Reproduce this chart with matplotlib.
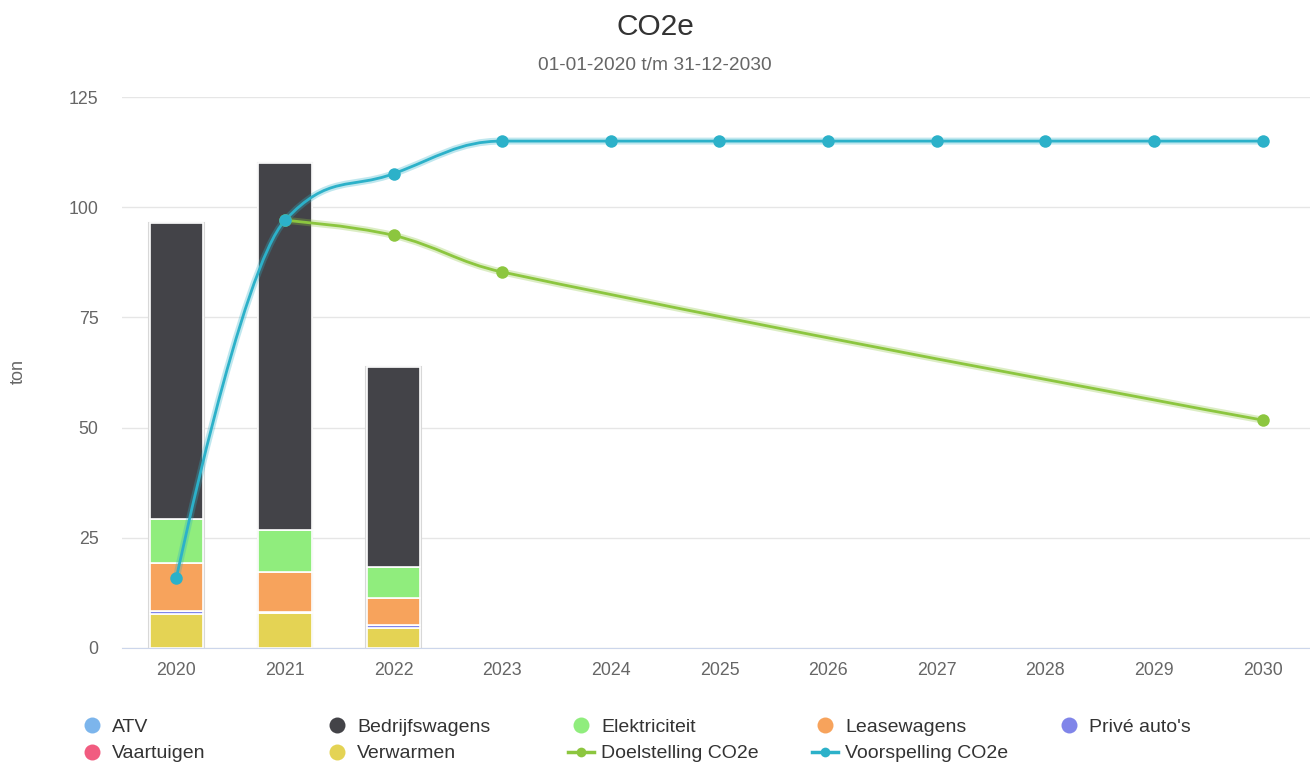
import numpy as np
import matplotlib
matplotlib.use("Agg")
from matplotlib import pyplot as plt
from matplotlib.path import Path
from matplotlib.patches import PathPatch
from matplotlib.lines import Line2D

plt.rcParams['font.family'] = ['Liberation Sans', 'DejaVu Sans']

# data
years = ['2020', '2021', '2022', '2023', '2024', '2025', '2026', '2027', '2028', '2029', '2030']
bar_years = [0, 1, 2]
atv = [0.0, 0.0, 0.0]
verwarmen = [7.6, 8.0, 4.6]
prive = [0.9, 0.2, 0.6]
vaartuigen = [0.0, 0.0, 0.0]
leasewagens = [10.7, 9.1, 6.1]
elektriciteit = [10.0, 9.4, 7.1]
bedrijfswagens = [67.2, 83.3, 45.3]

voorspelling_x = [0, 1, 2, 3, 4, 5, 6, 7, 8, 9, 10]
voorspelling = [15.8, 97.0, 107.6, 115.0, 115.0, 115.0, 115.0, 115.0, 115.0, 115.0, 115.0]
doel_x = [1, 2, 3, 10]
doelstelling = [97.0, 93.6, 85.3, 51.7]

yticks = [0, 25, 50, 75, 100, 125]

c_atv = '#7cb5ec'
c_bedrijf = '#434348'
c_elek = '#90ed7d'
c_lease = '#f7a35c'
c_prive = '#8085e9'
c_vaar = '#f15c80'
c_verw = '#e4d354'
c_doel = '#8cc63f'
c_voor = '#2cb1c9'

W, H = 1310, 763


def spline_path(xs, ys, smoothing=1.5):
    # highcharts-style spline: cubic bezier segments between points
    xs = list(map(float, xs)); ys = list(map(float, ys))
    n = len(xs)
    lc = [(xs[i], ys[i]) for i in range(n)]
    rc = [(xs[i], ys[i]) for i in range(n)]
    denom = smoothing + 1
    for i in range(1, n - 1):
        px, py = xs[i], ys[i]
        lx, ly = xs[i - 1], ys[i - 1]
        nx, ny = xs[i + 1], ys[i + 1]
        lcx = (smoothing * px + lx) / denom
        lcy = (smoothing * py + ly) / denom
        rcx = (smoothing * px + nx) / denom
        rcy = (smoothing * py + ny) / denom
        if rcx != lcx:
            corr = (rcy - lcy) * (rcx - px) / (rcx - lcx) + py - rcy
            lcy += corr
            rcy += corr
        if lcy > ly and lcy > py:
            lcy = max(ly, py); rcy = 2 * py - lcy
        elif lcy < ly and lcy < py:
            lcy = min(ly, py); rcy = 2 * py - lcy
        if rcy > ny and rcy > py:
            rcy = max(ny, py); lcy = 2 * py - rcy
        elif rcy < ny and rcy < py:
            rcy = min(ny, py); lcy = 2 * py - rcy
        lc[i] = (lcx, lcy)
        rc[i] = (rcx, rcy)
    verts = [(xs[0], ys[0])]
    codes = [Path.MOVETO]
    for i in range(1, n):
        verts += [rc[i - 1], lc[i], (xs[i], ys[i])]
        codes += [Path.CURVE4] * 3
    return Path(verts, codes)


fig = plt.figure(figsize=(W / 100, H / 100), dpi=100)
ax = fig.add_axes([122 / W, 1 - 648 / H, (W - 122) / W, (648 - 97) / H])

x = np.array(bar_years)
w = 0.49
bottom = np.zeros(3)
stack = [(atv, c_atv), (verwarmen, c_verw), (prive, c_prive), (vaartuigen, c_vaar),
         (leasewagens, c_lease), (elektriciteit, c_elek), (bedrijfswagens, c_bedrijf)]
for vals, col in stack:
    v = np.array(vals)
    ax.bar(x, v, w, bottom=bottom, color=col, edgecolor='white', linewidth=1.2, zorder=2)
    bottom += v
# light outline around full stack
ax.bar(x, bottom, w + 0.015, color='none', edgecolor='#d8d8d8', linewidth=1.5, zorder=1.9)

for xs, ys, col in [(doel_x, doelstelling, c_doel), (voorspelling_x, voorspelling, c_voor)]:
    p = spline_path(xs, ys)
    ax.add_patch(PathPatch(p, facecolor='none', edgecolor=col, lw=5, alpha=0.3, zorder=3, capstyle='round'))
    ax.add_patch(PathPatch(p, facecolor='none', edgecolor=col, lw=2, zorder=3.1, capstyle='round'))
    ax.plot(xs, ys, 'o', color=col, ms=9, mew=0, zorder=4)

ax.set_xlim(-0.5, 10.5 - 7 / 108.7)
ax.set_ylim(0, 125)
ax.set_yticks(yticks)
ax.set_xticks(range(len(years)))
ax.set_xticklabels(years)
ax.grid(axis='y', color='#e6e6e6', lw=1, zorder=0)
ax.tick_params(axis='both', length=0, labelsize=12.8, colors='#666666')
ax.tick_params(axis='x', pad=10)
ax.tick_params(axis='y', pad=17)
for s in ['top', 'right', 'left']:
    ax.spines[s].set_visible(False)
ax.spines['bottom'].set_color('#ccd6eb')

fig.text(18 / W, 1 - 372 / H, 'ton', rotation=90, ha='center', va='center', fontsize=13, color='#666666')
fig.text(0.5, 1 - 27 / H, 'CO2e', ha='center', va='center', fontsize=21.5, color='#333333')
fig.text(0.5, 1 - 66 / H, '01-01-2020 t/m 31-12-2030', ha='center', va='center', fontsize=13.8, color='#666666')

# legend, laid out like the reference (5 columns, 2 rows)
labels = ['ATV', 'Bedrijfswagens', 'Elektriciteit', 'Leasewagens', "Privé auto's",
          'Vaartuigen', 'Verwarmen', 'Doelstelling CO2e', 'Voorspelling CO2e']
colors = [c_atv, c_bedrijf, c_elek, c_lease, c_prive, c_vaar, c_verw, c_doel, c_voor]
kinds = ['bar'] * 7 + ['line'] * 2
colx = [92, 337, 581, 825, 1069]
rowy = [725, 752]
for k, (lab, col, kind) in enumerate(zip(labels, colors, kinds)):
    cx = colx[k % 5]
    cy = 1 - rowy[k // 5] / H
    if kind == 'bar':
        fig.add_artist(Line2D([cx / W], [cy], ls='none', marker='o', ms=11.5, color=col, mew=0))
    else:
        fig.add_artist(Line2D([(cx - 13) / W, (cx + 13) / W], [cy, cy], lw=2.5, color=col))
        fig.add_artist(Line2D([cx / W], [cy], ls='none', marker='o', ms=7, color=col, mew=0))
    fig.text((cx + 20) / W, cy, lab, ha='left', va='center_baseline', fontsize=14, color='#333333')

fig.savefig('out.png', dpi=100)
